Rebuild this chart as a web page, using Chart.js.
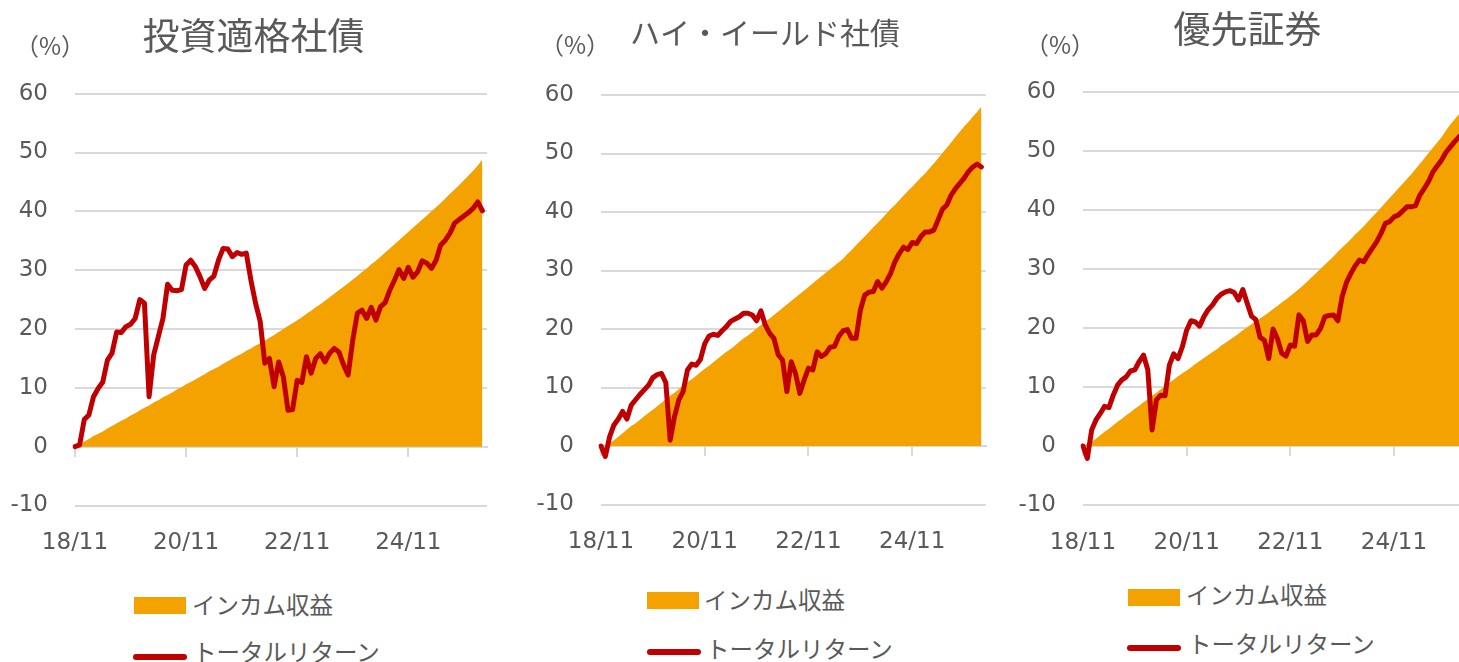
<!DOCTYPE html>
<html>
<head>
<meta charset="utf-8">
<script src="https://cdn.jsdelivr.net/npm/chart.js@4"></script>
<style>
  body { margin: 0; width: 1459px; height: 662px; overflow: hidden; position: relative; background: #fff; }
  .panel { position: absolute; top: 0; }
  .note { position: absolute; font-family: "Noto Sans CJK JP", sans-serif; color: #595959; white-space: nowrap; }
  .swatch { position: absolute; }
</style>
</head>
<body>
<div class="panel" style="left:0px"><canvas id="chart-ig" width="490" height="570"></canvas></div>
<div class="panel" style="left:520px"><canvas id="chart-hy" width="470" height="570"></canvas></div>
<div class="panel" style="left:1000px"><canvas id="chart-pf" width="472" height="570"></canvas></div>
<div id="notes"></div>
<script>
const months = [
  "18/11", "18/12",
  "19/01", "19/02", "19/03", "19/04", "19/05", "19/06", "19/07", "19/08", "19/09", "19/10", "19/11", "19/12",
  "20/01", "20/02", "20/03", "20/04", "20/05", "20/06", "20/07", "20/08", "20/09", "20/10", "20/11", "20/12",
  "21/01", "21/02", "21/03", "21/04", "21/05", "21/06", "21/07", "21/08", "21/09", "21/10", "21/11", "21/12",
  "22/01", "22/02", "22/03", "22/04", "22/05", "22/06", "22/07", "22/08", "22/09", "22/10", "22/11", "22/12",
  "23/01", "23/02", "23/03", "23/04", "23/05", "23/06", "23/07", "23/08", "23/09", "23/10", "23/11", "23/12",
  "24/01", "24/02", "24/03", "24/04", "24/05", "24/06", "24/07", "24/08", "24/09", "24/10", "24/11", "24/12",
  "25/01", "25/02", "25/03", "25/04", "25/05", "25/06", "25/07", "25/08", "25/09", "25/10", "25/11", "25/12",
  "26/01", "26/02", "26/03", "26/04",
];
const tickLabels = ["18/11", "20/11", "22/11", "24/11"];
const seriesNames = ["インカム収益", "トータルリターン"];

// 投資適格社債
const igIncome = [
  0.0, 0.4, 0.9, 1.3, 1.8, 2.2, 2.6, 3.1, 3.5, 4.0,
  4.4, 4.8, 5.3, 5.7, 6.2, 6.6, 7.0, 7.5, 7.9, 8.4,
  8.8, 9.2, 9.7, 10.1, 10.6, 11.0, 11.4, 11.9, 12.3, 12.8,
  13.2, 13.6, 14.1, 14.5, 15.0, 15.4, 15.8, 16.3, 16.7, 17.2,
  17.6, 18.0, 18.5, 19.0, 19.5, 20.0, 20.5, 21.0, 21.5, 22.0,
  22.6, 23.1, 23.7, 24.2, 24.8, 25.4, 26.0, 26.6, 27.2, 27.8,
  28.4, 29.0, 29.7, 30.3, 31.0, 31.6, 32.3, 33.0, 33.7, 34.4,
  35.1, 35.8, 36.5, 37.2, 37.9, 38.6, 39.3, 40.0, 40.7, 41.4,
  42.2, 43.0, 43.7, 44.5, 45.3, 46.1, 46.9, 47.8, 48.8,
];
const igTotal = [
  0.0, 0.3, 4.6, 5.4, 8.5, 9.9, 11.0, 14.7, 15.9, 19.5,
  19.4, 20.4, 20.8, 21.8, 25.0, 24.4, 8.5, 15.6, 18.7, 21.8,
  27.6, 26.6, 26.5, 26.7, 30.9, 31.7, 30.6, 28.9, 26.9, 28.3,
  29.0, 31.7, 33.7, 33.6, 32.3, 33.0, 32.7, 32.9, 28.3, 24.4,
  21.3, 14.2, 15.0, 10.2, 14.4, 11.9, 6.2, 6.3, 11.3, 10.9,
  15.3, 12.5, 15.0, 15.8, 14.4, 15.9, 16.7, 16.1, 13.9, 12.2,
  18.1, 22.7, 23.2, 21.8, 23.7, 21.5, 23.8, 24.5, 26.6, 28.3,
  30.1, 28.6, 30.5, 28.8, 29.7, 31.6, 31.2, 30.3, 31.7, 34.3,
  35.1, 36.3, 38.0, 38.6, 39.2, 39.8, 40.5, 41.6, 40.1,
];

// ハイ・イールド社債
const hyIncome = [
  0.0, 0.1, 0.5, 1.0, 1.6, 2.2, 2.8, 3.4, 3.9, 4.5,
  5.1, 5.7, 6.2, 6.8, 7.4, 8.0, 8.6, 9.1, 9.7, 10.3,
  10.9, 11.4, 12.0, 12.6, 13.2, 13.7, 14.3, 14.9, 15.5, 16.1,
  16.6, 17.2, 17.8, 18.4, 18.9, 19.5, 20.1, 20.7, 21.3, 21.8,
  22.4, 23.0, 23.6, 24.2, 24.8, 25.4, 26.0, 26.6, 27.2, 27.8,
  28.4, 29.0, 29.6, 30.2, 30.8, 31.4, 32.0, 32.8, 33.5, 34.3,
  35.1, 35.8, 36.6, 37.4, 38.1, 38.9, 39.7, 40.5, 41.2, 42.0,
  42.8, 43.6, 44.3, 45.1, 45.9, 46.6, 47.5, 48.3, 49.2, 50.1,
  51.0, 51.9, 52.8, 53.7, 54.6, 55.4, 56.3, 57.1, 58.0,
];
const hyTotal = [
  0.0, -1.8, 1.6, 3.6, 4.6, 5.9, 4.6, 7.0, 7.9, 8.8,
  9.6, 10.4, 11.7, 12.2, 12.4, 10.8, 1.0, 5.0, 7.9, 9.3,
  13.0, 14.0, 13.8, 14.8, 17.5, 18.8, 19.1, 18.9, 19.7, 20.4,
  21.3, 21.7, 22.1, 22.7, 22.7, 22.4, 21.4, 23.1, 20.7, 19.3,
  18.4, 15.6, 14.7, 9.3, 14.4, 12.4, 9.0, 11.3, 13.3, 13.0,
  16.1, 15.3, 15.8, 16.9, 17.0, 18.7, 19.7, 19.9, 18.4, 18.4,
  23.2, 25.8, 26.3, 26.4, 28.1, 27.0, 28.1, 29.5, 31.5, 32.9,
  34.0, 33.6, 34.8, 34.6, 35.8, 36.6, 36.6, 36.9, 38.7, 40.5,
  41.2, 42.9, 44.0, 44.9, 45.8, 46.9, 47.7, 48.2, 47.7,
];

// 優先証券
const pfIncome = [
  0.0, 0.3, 0.7, 1.2, 1.8, 2.4, 2.9, 3.5, 4.1, 4.6,
  5.2, 5.7, 6.3, 6.8, 7.4, 7.9, 8.5, 9.0, 9.6, 10.1,
  10.7, 11.2, 11.8, 12.3, 12.8, 13.3, 13.9, 14.4, 14.9, 15.4,
  15.9, 16.4, 17.0, 17.5, 18.0, 18.5, 19.0, 19.6, 20.1, 20.6,
  21.1, 21.6, 22.1, 22.6, 23.2, 23.7, 24.3, 24.8, 25.4, 26.0,
  26.6, 27.2, 27.9, 28.6, 29.3, 30.0, 30.7, 31.4, 32.1, 32.9,
  33.6, 34.3, 35.0, 35.8, 36.5, 37.2, 38.0, 38.8, 39.6, 40.4,
  41.2, 42.0, 42.8, 43.6, 44.4, 45.2, 46.0, 46.9, 47.8, 48.7,
  49.6, 50.5, 51.4, 52.3, 53.4, 54.4, 55.3, 56.1, 57.0,
];
const pfTotal = [
  0.0, -2.1, 2.7, 4.4, 5.5, 6.7, 6.5, 8.6, 10.3, 11.2,
  11.7, 12.7, 12.9, 14.3, 15.4, 12.9, 2.7, 7.8, 8.6, 8.5,
  13.7, 15.6, 14.8, 16.8, 19.6, 21.2, 21.0, 20.3, 21.9, 23.1,
  23.9, 25.0, 25.7, 26.1, 26.3, 26.0, 24.7, 26.5, 24.2, 22.0,
  21.4, 18.4, 17.9, 14.8, 19.8, 18.2, 15.7, 15.2, 17.1, 16.9,
  22.2, 21.2, 17.7, 18.8, 18.8, 19.9, 21.9, 22.1, 22.2, 21.2,
  25.3, 27.7, 29.2, 30.5, 31.5, 31.2, 32.4, 33.5, 34.6, 36.0,
  37.7, 38.0, 38.8, 39.1, 39.8, 40.5, 40.5, 40.7, 42.5, 43.6,
  44.8, 46.4, 47.4, 48.4, 49.7, 50.6, 51.5, 52.3, 53.0,
];

const ORANGE = "#f3a200";
const RED = "#c00000";
const TEXT = "#595959";
const GRID = "#d9d9d9";
const NUM_FONT = "'DejaVu Sans', Verdana, sans-serif";
const JP_FONT = "'Noto Sans CJK JP', sans-serif";

const isTick = (i) => tickLabels.includes(months[i]);

// the x labels sit under the y axis area, so no extra side padding is wanted
const noSidePadding = (s) => {
  s.paddingLeft = 0;
  s.paddingRight = 0;
};

// the left layout padding only re-centres the title; let the y labels
// ("-10") use that room instead of being clipped at the axis box
const yLabelRoom = {
  id: "yLabelRoom",
  afterLayout: (chart) => {
    chart.scales.y.left = 0;
  },
};

const panelConfig = (p) => ({
  type: "line",
  data: {
    labels: months,
    datasets: [
      {
        label: seriesNames[1],
        data: p.total,
        borderColor: RED,
        borderWidth: 5,
        borderCapStyle: "round",
        borderJoinStyle: "round",
        pointRadius: 0,
        tension: 0,
        fill: false,
        order: 0,
      },
      {
        label: seriesNames[0],
        data: p.income,
        backgroundColor: ORANGE,
        borderWidth: 0,
        pointRadius: 0,
        tension: 0,
        fill: "origin",
        order: 1,
      },
    ],
  },
  options: {
    responsive: false,
    animation: false,
    layout: { padding: { top: 0, left: p.padLeft, right: p.padRight, bottom: p.padBottom } },
    plugins: {
      legend: { display: false },
      tooltip: { enabled: false },
      title: {
        display: true,
        text: p.title,
        color: TEXT,
        font: { family: JP_FONT, size: p.titleSize, weight: "normal", lineHeight: 1.2 },
        padding: { top: p.titleTop, bottom: p.titleBottom },
      },
    },
    scales: {
      x: {
        type: "category",
        grid: { display: false },
        border: { display: false },
        ticks: {
          autoSkip: false,
          maxRotation: 0,
          padding: 16,
          color: TEXT,
          font: { family: NUM_FONT, size: 23 },
          callback: (v, i) => (isTick(i) ? months[i] : ""),
        },
        afterFit: (s) => {
          s.height = 60;
          noSidePadding(s);
        },
      },
      xZero: {
        type: "category",
        axis: "x",
        position: { y: 0 },
        border: { display: true, color: GRID, width: 2 },
        grid: {
          drawOnChartArea: false,
          drawTicks: true,
          tickLength: 9,
          lineWidth: 2,
          color: (ctx) => (isTick(ctx.index) ? GRID : "rgba(0,0,0,0)"),
        },
        ticks: { display: false, autoSkip: false },
        afterFit: noSidePadding,
      },
      y: {
        min: -10,
        max: 60,
        border: { display: false },
        grid: { color: GRID, lineWidth: 2, drawTicks: false },
        ticks: { stepSize: 10, padding: 27, color: TEXT, font: { family: NUM_FONT, size: 23 } },
        afterFit: (s) => { s.width = p.yWidth; },
      },
    },
  },
  plugins: [yLabelRoom],
});

const panels = [
  {
    canvas: "chart-ig", title: "投資適格社債", income: igIncome, total: igTotal,
    titleSize: 37, titleTop: 13.8, titleBottom: 35.5,
    padLeft: 20, yWidth: 55, padRight: 3, padBottom: 4.5,
    unit: { left: 15, top: 31 },
    legend: { box: [134, 597], boxText: [192, 590], line: [133, 654], lineText: [193, 637] },
  },
  {
    canvas: "chart-hy", title: "ハイ・イールド社債", income: hyIncome, total: hyTotal,
    titleSize: 30, titleTop: 15, titleBottom: 44,
    padLeft: 24.3, yWidth: 56.7, padRight: 4.3, padBottom: 5.5,
    unit: { left: 540, top: 30 },
    legend: { box: [647, 592], boxText: [704, 585], line: [647, 649], lineText: [706, 634] },
  },
  {
    canvas: "chart-pf", title: "優先証券", income: pfIncome, total: pfTotal,
    titleSize: 37, titleTop: 6.8, titleBottom: 40.5,
    padLeft: 27.6, yWidth: 55.4, padRight: 4.6, padBottom: 5,
    unit: { left: 1025, top: 30 },
    legend: { box: [1128, 589], boxText: [1186, 580], line: [1127, 645], lineText: [1188, 629] },
  },
];

const notes = document.getElementById("notes");
const addNote = (text, x, y, size) => {
  const el = document.createElement("div");
  el.className = "note";
  el.textContent = text;
  el.style.left = x + "px";
  el.style.top = y + "px";
  el.style.fontSize = size + "px";
  el.style.lineHeight = "1.2";
  notes.appendChild(el);
};
const addSwatch = (x, y, w, h, color, radius) => {
  const el = document.createElement("div");
  el.className = "swatch";
  Object.assign(el.style, {
    left: x + "px", top: y + "px", width: w + "px", height: h + "px",
    background: color, borderRadius: radius + "px",
  });
  notes.appendChild(el);
};

panels.forEach((p) => {
  new Chart(document.getElementById(p.canvas).getContext("2d"), panelConfig(p));
  addNote("（%）", p.unit.left, p.unit.top, 24);
  addSwatch(p.legend.box[0], p.legend.box[1], 52, 17, ORANGE, 0);
  addNote(seriesNames[0], p.legend.boxText[0], p.legend.boxText[1], 23.5);
  addSwatch(p.legend.line[0], p.legend.line[1], 54, 6, RED, 3);
  addNote(seriesNames[1], p.legend.lineText[0], p.legend.lineText[1], 23.5);
});
</script>
</body>
</html>
